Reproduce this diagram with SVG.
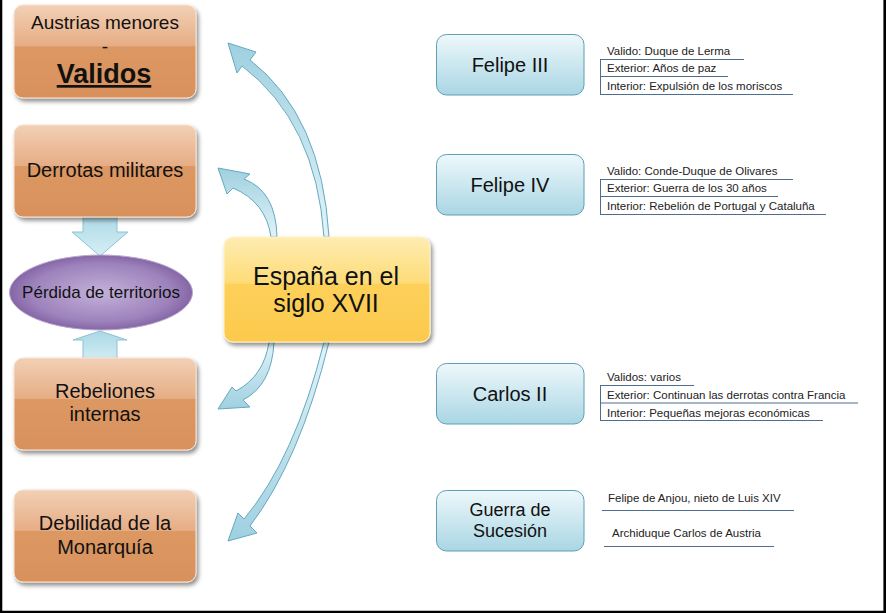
<svg xmlns="http://www.w3.org/2000/svg" width="886" height="613" viewBox="0 0 886 613">
<defs>
<linearGradient id="gOr" x1="0" y1="0" x2="0" y2="1">
<stop offset="0" stop-color="#f2d0b5"/><stop offset="0.44" stop-color="#e6ad85"/><stop offset="0.45" stop-color="#dc9863"/><stop offset="1" stop-color="#d9915c"/>
</linearGradient>
<linearGradient id="gYe" x1="0" y1="0" x2="0" y2="1">
<stop offset="0" stop-color="#feedb2"/><stop offset="0.44" stop-color="#fddb77"/><stop offset="0.45" stop-color="#fdd05a"/><stop offset="1" stop-color="#fcca4c"/>
</linearGradient>
<linearGradient id="gBl" x1="0" y1="0" x2="0" y2="1">
<stop offset="0" stop-color="#eef8fb"/><stop offset="1" stop-color="#a9d6e4"/>
</linearGradient>
<radialGradient id="gPu" cx="0.5" cy="0.5" r="0.55">
<stop offset="0" stop-color="#c4b2d9"/><stop offset="0.7" stop-color="#9d82bc"/><stop offset="1" stop-color="#7a5a9c"/>
</radialGradient>
<linearGradient id="gArU" x1="0" y1="1" x2="0" y2="0">
<stop offset="0" stop-color="#e2f3f8"/><stop offset="1" stop-color="#9fd0e0"/>
</linearGradient>
<linearGradient id="gArD" x1="0" y1="0" x2="0" y2="1">
<stop offset="0" stop-color="#e2f3f8"/><stop offset="1" stop-color="#9fd0e0"/>
</linearGradient>
<linearGradient id="gChev" x1="0" y1="0" x2="0" y2="1">
<stop offset="0" stop-color="#a9d8e5"/><stop offset="1" stop-color="#d6eef5"/>
</linearGradient>
<filter id="sh" x="-10%" y="-10%" width="125%" height="130%">
<feDropShadow dx="2" dy="3" stdDeviation="2" flood-color="#000" flood-opacity="0.45"/>
</filter>
</defs>
<style>
text{font-family:"Liberation Sans",Arial,sans-serif;fill:#111}
.or{fill:url(#gOr);stroke:#f6e2d2;stroke-width:1;filter:url(#sh)}
.ye{fill:url(#gYe);stroke:#fff3cc;stroke-width:1;filter:url(#sh)}
.bl{fill:url(#gBl);stroke:#5e9fb6;stroke-width:1}
.lt{font-size:20px;text-anchor:middle}
.rt{font-size:20px;text-anchor:middle}
.sm{font-size:11.5px;fill:#222}
.ln{stroke:#4f6d8f;stroke-width:1;fill:none}
.cur{stroke:#63a9c1;stroke-width:1}
.chev{fill:url(#gChev);stroke:#8cc4d4;stroke-width:1}
</style>
<rect width="886" height="613" fill="#fff"/>
<path d="M1 0 V612 H884.7 V0" fill="none" stroke="#000" stroke-width="2.6"/>

<g id="connectors">
<path class="cur" fill="url(#gArU)" d="M329 237 Q322 116 250 60 L256 52 L228 43 L237 73 L242 66 Q316 122 324 237 Z"/>
<path class="cur" fill="url(#gArU)" d="M277 237 Q276 191 244 179 L250 174 L218 168 L227 194 L233 188 Q266 202 271 237 Z"/>
<path class="cur" fill="url(#gArD)" d="M274 342 Q272 385 243 400 L250 407 L218 409 L232 387 L236 391 Q264 376 269 342 Z"/>
<path class="cur" fill="url(#gArD)" d="M329 342 Q300 460 250 526 L257 533 L228 541 L238 513 L244 519 Q295 458 324 342 Z"/>
<path class="chev" d="M83 212 H117 V232 H128 L100 256 L72 232 H83 Z"/>
<path class="chev" d="M83 362 V340 H73 L100 331 L127 340 H117 V362 Z"/>
</g>

<g id="austrias">
<rect class="or" x="14" y="5" width="182" height="93" rx="9"/>
<text class="lt" x="105" y="29" style="font-size:19px">Austrias menores</text>
<text class="lt" x="105" y="53" style="font-size:19px">-</text>
<text class="lt" x="104" y="83" style="font-size:27px;font-weight:bold;text-decoration:underline">Validos</text>
</g>
<g id="derrotas">
<rect class="or" x="14" y="125" width="182" height="92" rx="9"/>
<text class="lt" x="105" y="177">Derrotas militares</text>
</g>
<g id="perdida">
<ellipse cx="101" cy="292.5" rx="91.5" ry="37.5" fill="url(#gPu)" stroke="#b9a7cf" stroke-width="1"/>
<text x="101" y="298" style="font-size:17px;text-anchor:middle">Pérdida de territorios</text>
</g>
<g id="rebeliones">
<rect class="or" x="14" y="358" width="182" height="92" rx="9"/>
<text class="lt" x="105" y="398">Rebeliones</text>
<text class="lt" x="105" y="421">internas</text>
</g>
<g id="debilidad">
<rect class="or" x="14" y="490" width="182" height="92" rx="9"/>
<text class="lt" x="105" y="530">Debilidad de la</text>
<text class="lt" x="105" y="554">Monarquía</text>
</g>
<g id="espana">
<rect class="ye" x="224" y="237" width="206" height="105" rx="9"/>
<text x="326" y="285" style="font-size:25px;text-anchor:middle">España en el</text>
<text x="326" y="312" style="font-size:25px;text-anchor:middle">siglo XVII</text>
</g>

<g id="felipe3">
<rect class="bl" x="436.5" y="34.5" width="147.5" height="60.5" rx="10"/>
<text class="rt" x="510" y="72">Felipe III</text>
<text class="sm" x="607" y="55">Valido: Duque de Lerma</text>
<text class="sm" x="607" y="72">Exterior: Años de paz</text>
<text class="sm" x="607" y="90">Interior: Expulsión de los moriscos</text>
<path class="ln" d="M600 59.5 H744 M600 76.5 H728 M600 94.5 H793 M600.5 59.5 V94.5"/>
</g>
<g id="felipe4">
<rect class="bl" x="436.5" y="154.5" width="147.5" height="60.5" rx="10"/>
<text class="rt" x="510" y="192">Felipe IV</text>
<text class="sm" x="607" y="175">Valido: Conde-Duque de Olivares</text>
<text class="sm" x="607" y="192">Exterior: Guerra de los 30 años</text>
<text class="sm" x="607" y="210">Interior: Rebelión de Portugal y Cataluña</text>
<path class="ln" d="M600 179.5 H793 M600 196.5 H778 M600 214.5 H826 M600.5 179.5 V214.5"/>
</g>
<g id="carlos2">
<rect class="bl" x="436.5" y="363.5" width="147.5" height="60.5" rx="10"/>
<text class="rt" x="510" y="401">Carlos II</text>
<text class="sm" x="607" y="381">Validos: varios</text>
<text class="sm" x="607" y="398.5">Exterior: Continuan las derrotas contra Francia</text>
<text class="sm" x="607" y="416.5">Interior: Pequeñas mejoras económicas</text>
<path class="ln" d="M600 385.5 H694 M600 403 H858 M600 420.5 H823 M600.5 385.5 V420.5"/>
</g>
<g id="guerra">
<rect class="bl" x="436.5" y="490.5" width="147.5" height="60.5" rx="10"/>
<text x="510" y="516" style="font-size:18px;text-anchor:middle">Guerra de</text>
<text x="510" y="537" style="font-size:18px;text-anchor:middle">Sucesión</text>
<text class="sm" x="608" y="502">Felipe de Anjou, nieto de Luis XIV</text>
<text class="sm" x="612" y="537">Archiduque Carlos de Austria</text>
<path class="ln" d="M602 510.5 H794 M604 546.5 H774"/>
</g>
</svg>
